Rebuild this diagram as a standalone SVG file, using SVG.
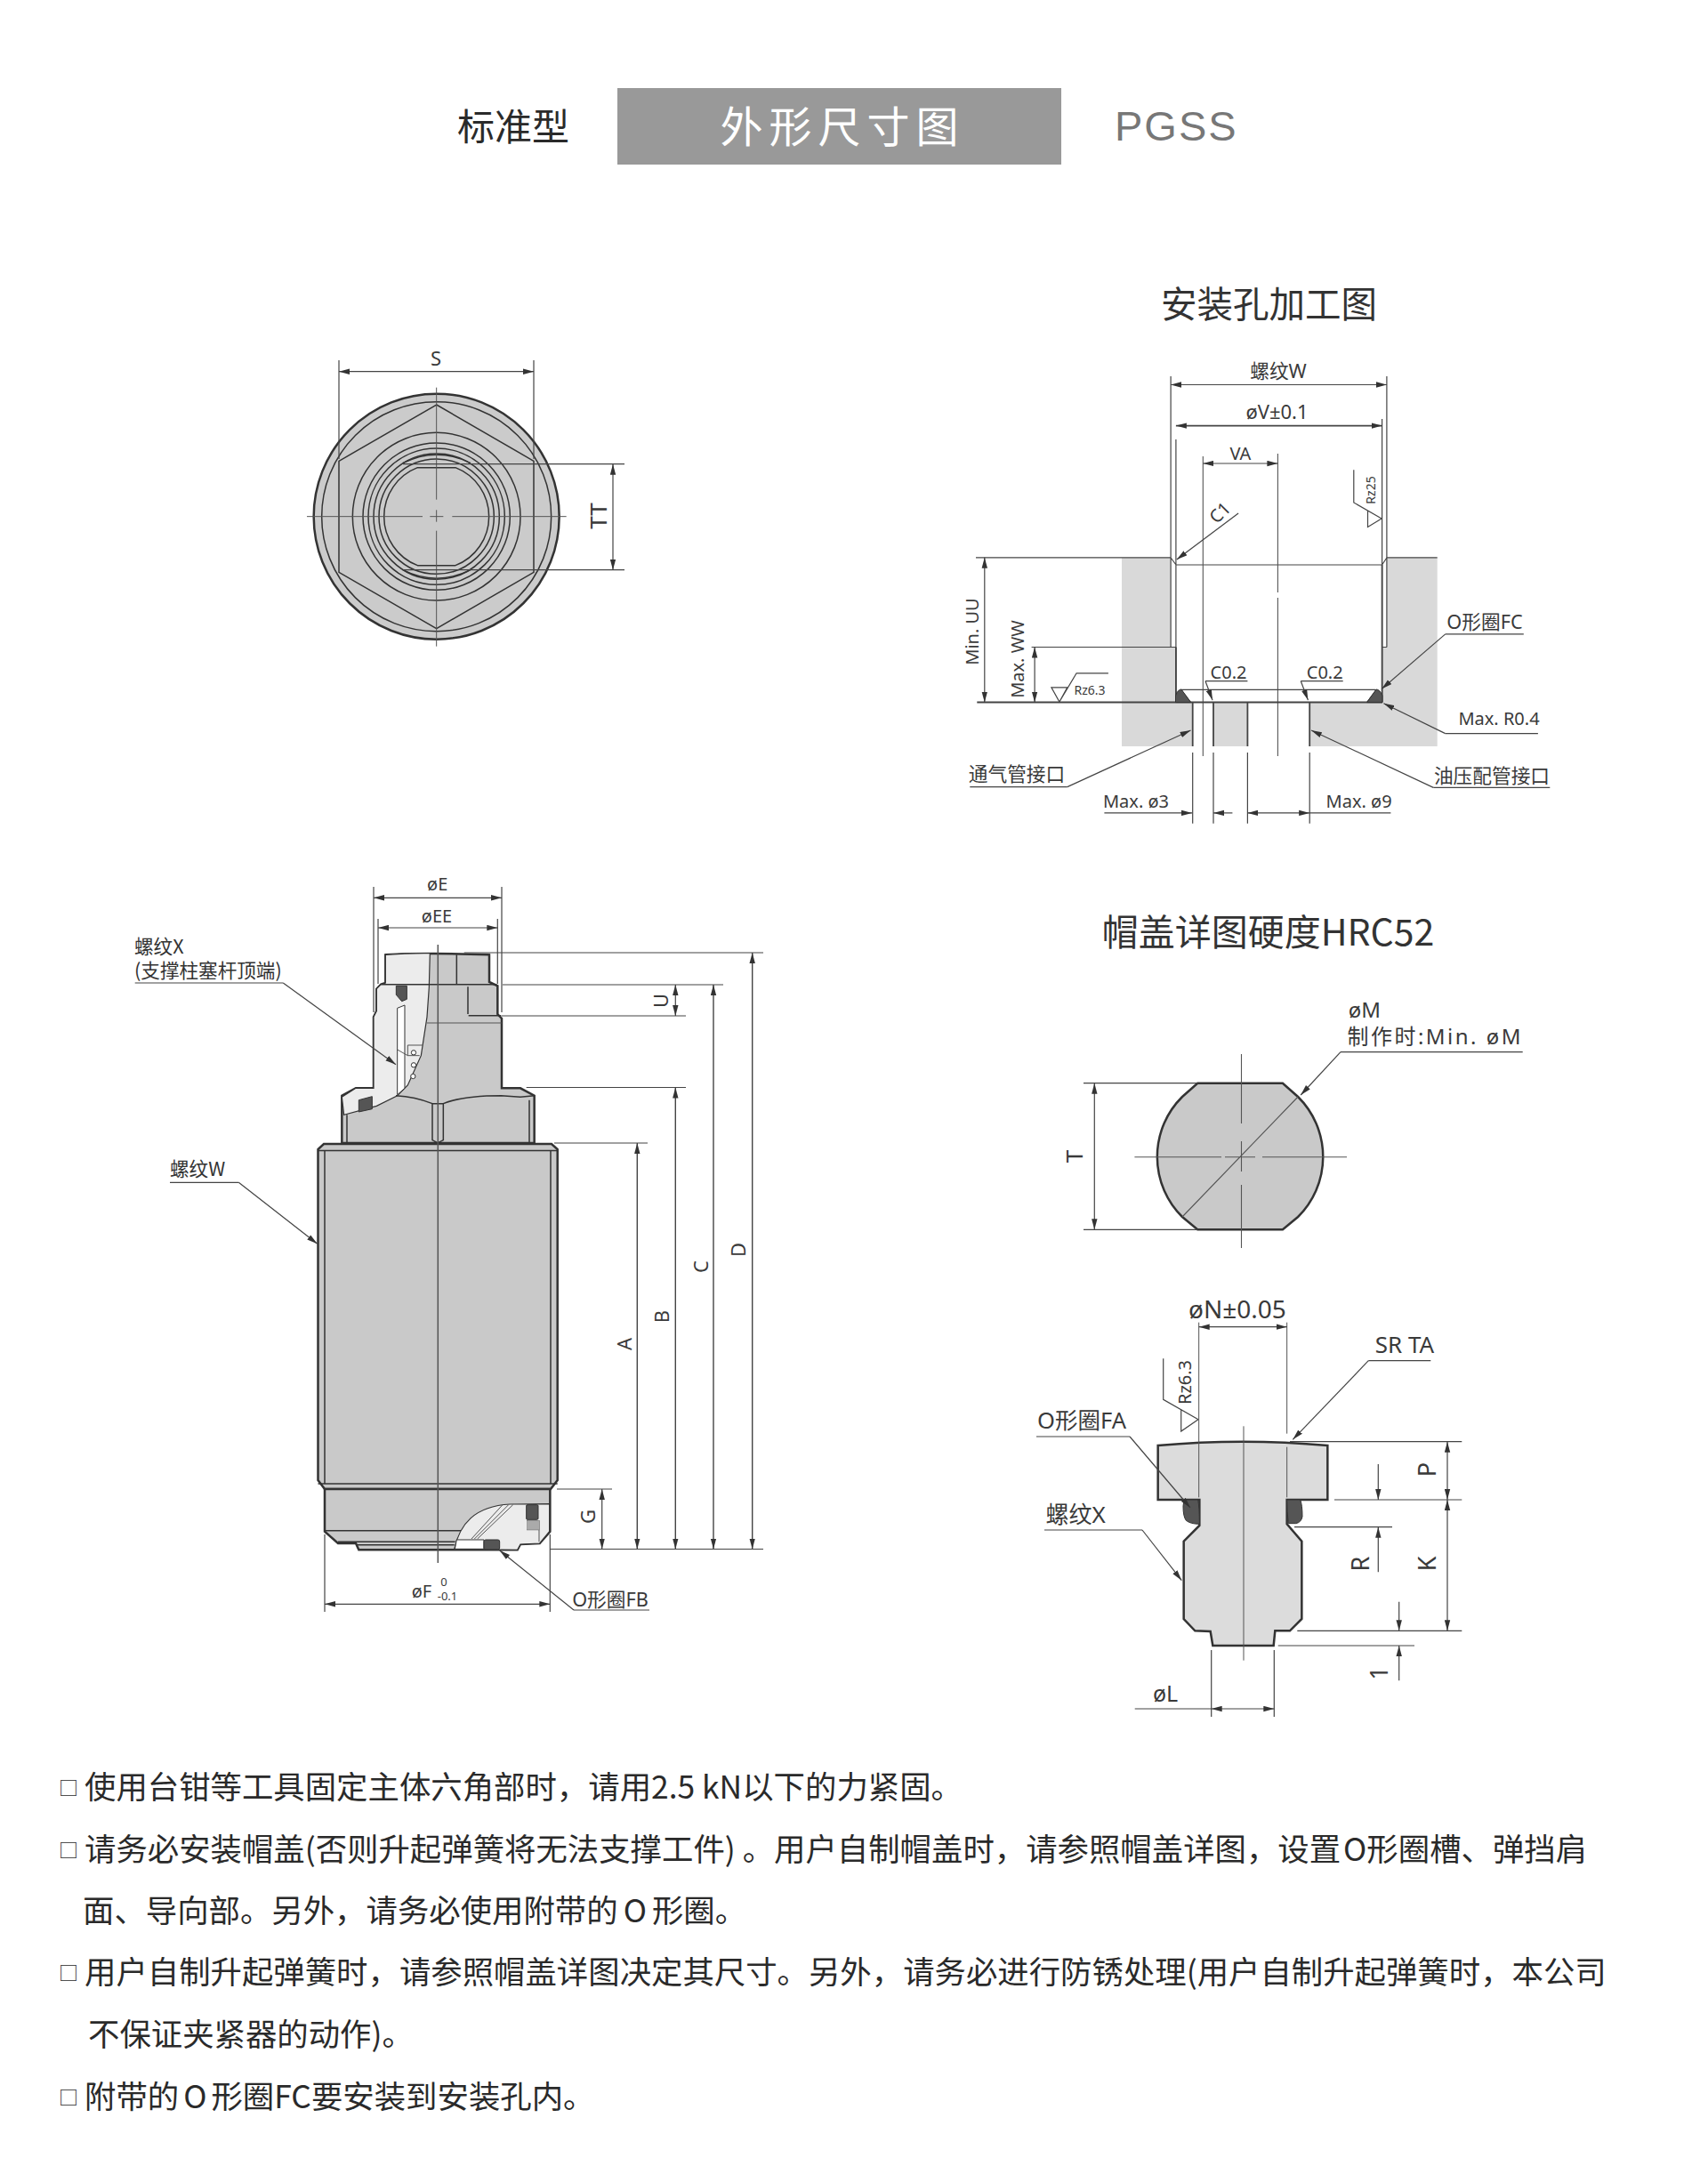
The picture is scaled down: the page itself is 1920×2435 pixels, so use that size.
<svg xmlns="http://www.w3.org/2000/svg" width="1920" height="2435" viewBox="0 0 1920 2435">
<style>
text{font-family:"Noto Sans","Noto Sans CJK SC",sans-serif;fill:#3a3a3a;text-anchor:middle;dominant-baseline:central}
.f{font-size:20px}.j{font-size:21.7px}.g{font-size:22px}.h{font-size:26px}.q{font-size:27px}.s{font-size:14px}.n{font-size:13px}
.title{font-family:"Noto Sans CJK SC",sans-serif;fill:#333}
.note{font-size:35.4px;font-family:"Noto Sans CJK SC",sans-serif;fill:#2a2a2a;text-anchor:start;dominant-baseline:auto}
.sq{font-size:22px;font-family:"Noto Sans CJK SC",sans-serif;fill:#2a2a2a;text-anchor:start;dominant-baseline:auto}
.box{font-size:21.6px;font-family:"Noto Sans CJK SC",sans-serif;fill:#333;text-anchor:start;dominant-baseline:auto}
.l{fill:none;stroke:#444;stroke-width:1.2}
.d{fill:none;stroke:#444;stroke-width:1.2;marker-start:url(#a);marker-end:url(#a)}
.e{fill:none;stroke:#444;stroke-width:1.2;marker-end:url(#a)}
.c{fill:none;stroke:#555;stroke-width:1.1}
.o{fill:#c9c9c9;stroke:#333;stroke-width:2.5;vector-effect:non-scaling-stroke}
.i{fill:none;stroke:#333;stroke-width:1.5;vector-effect:non-scaling-stroke}
.t{fill:none;stroke:#555;stroke-width:1;vector-effect:non-scaling-stroke}
.p{fill:#ececec;stroke:#333;stroke-width:1.2;vector-effect:non-scaling-stroke}
.w{fill:#fff;stroke:#333;stroke-width:1;vector-effect:non-scaling-stroke}
.r{fill:#555;stroke:#333;stroke-width:1;vector-effect:non-scaling-stroke}
</style>
<defs>
<marker id="a" markerUnits="userSpaceOnUse" markerWidth="13" markerHeight="7" refX="12" refY="3.5" orient="auto-start-reverse"><path d="M0 0.3L12 3.5L0 6.7Z" fill="#333"/></marker>
</defs>
<rect width="1920" height="2435" fill="#fff"/>

<g id="header">
<text x="577" y="139" style="font-size:42px;font-family:'Noto Sans CJK SC',sans-serif;fill:#2a2a2a">标准型</text>
<rect x="694" y="99" width="499" height="86" fill="#999"/>
<text x="947" y="139" style="font-size:48px;letter-spacing:7px;font-family:'Noto Sans CJK SC',sans-serif;fill:#fff">外形尺寸图</text>
<text x="1253" y="158" style="font-size:47px;letter-spacing:2px;font-family:'Liberation Sans',sans-serif;fill:#777;text-anchor:start;dominant-baseline:auto">PGSS</text>
<text class="title" x="1426.5" y="339.5" style="font-size:40.5px">安装孔加工图</text>
<text class="title" x="1425.5" y="1045" style="font-size:41px">帽盖详图硬度HRC52</text>
</g>

<g id="top-view">
<g transform="translate(320,370) scale(.33333)">
<circle class="o" cx="512" cy="632" r="414" style="fill:#cbcbcb"/>
<circle class="i" cx="512" cy="632" r="387"/>
<path class="i" d="M512 255L840 445V820L512 1010L183 820V445Z"/>
<circle class="i" cx="512" cy="632" r="283"/>
<circle class="i" cx="512" cy="632" r="248"/>
<circle class="i" cx="512" cy="632" r="230"/>
<circle class="i" cx="512" cy="632" r="212"/>
<circle class="i" cx="512" cy="632" r="194"/>
<path class="i" d="M448 467L576 467A177 177 0 0 1 576 797L448 797A177 177 0 0 1 448 467Z"/>
<path class="i" d="M398 452Q512 395 627 452M398 812Q512 869 627 812"/>
<path class="t" d="M512 197V575M512 610V650M512 680V1070M75 632H465M490 632H535M565 632H950"/>
</g>
<path class="l" d="M381 405V516M600 405V516M453 521.7H702M453 640.7H702"/>
<path class="d" d="M381 417.7H600"/>
<path class="d" d="M689 521.7V640.7"/>
<text class="g" x="490" y="402">S</text>
<text class="h" x="672" y="580" transform="rotate(-90 672 580)">TT</text>
</g>

<g id="hole-view">
<path fill="#d9d9d9" d="M1261 627H1316.1V727.5H1321.9V790H1340.7V839H1261ZM1615.7 627H1558.9V727.5H1553.6V790H1472.2V839H1615.7ZM1364 790H1402.4V839H1364Z"/>
<path class="l" d="M1316.1 423V727.5H1321.9M1321.9 494V789.6M1553.6 471V789.6M1558.9 423V727.5M1553.6 727.5H1558.9M1316.1 627L1322 635H1553.6L1558.9 627"/>
<path class="l" style="stroke-width:1.8" d="M1321.9 727.5V789.6M1553.6 635V789.6"/>
<path class="c" d="M1436.4 510V666M1436.4 672V850M1352.3 513V850"/>
<path class="l" d="M1097 626.8H1316M1558.9 626.8H1615.7M1261 626.8H1316M1159.6 727.5H1316.1M1327.3 775.4H1546.4M1338.5 789.6L1327.3 775.4M1536.6 789.6L1547.3 775.4"/>
<path class="l" style="stroke-width:2" d="M1098.3 789.6H1554"/>
<path class="l" style="stroke-width:1.8" d="M1340.7 789.6V838.9M1364 789.6V838.9M1402.4 789.6V838.9M1472.2 789.6V838.9"/>
<path class="l" d="M1340.7 846V925.7M1364 846V925.7M1402.4 846V925.7M1472.2 846V925.7"/>
<path fill="#555" stroke="#333" d="M1321.5 789.6V782Q1324 775 1328 775L1338.7 789.6ZM1554 789.6V782Q1551 775 1547 775L1536.6 789.6Z"/>
<path class="d" d="M1316.1 432.5H1558.9"/>
<path class="d" style="stroke-width:1.8" d="M1321.9 478.6H1553.6"/>
<path class="d" d="M1352.3 521H1436.4"/>
<path class="d" d="M1106.8 626.8V789.6"/>
<path class="d" d="M1163.1 727.5V789.6"/>
<path class="e" d="M1392.1 577.1L1322.8 628.9"/>
<path class="l" d="M1181.9 772.9H1199.8L1190.9 789ZM1190.9 789L1210.1 756.8H1245.9M1521.8 528.2V565L1553.1 582.9M1537.5 573.8V592.5L1553.1 582.9"/>
<path class="e" d="M1355 765.7L1363 787.1"/>
<path class="e" d="M1462.3 765.7L1470.4 787.1"/>
<path class="l" d="M1355 765.7H1402.4M1462.3 765.7H1509.7M1712.8 712.9H1624.7M1728.9 824.6H1624.7M1090.3 884.6H1199.8M1742.3 885.4H1611.3"/>
<path class="e" d="M1624.7 712.9L1553.1 774.6"/>
<path class="e" d="M1624.7 824.6L1555.4 790.7"/>
<path class="e" d="M1199.8 884.6L1338.5 821"/>
<path class="e" d="M1611.3 885.4L1474 821"/>
<path class="e" d="M1241.4 913.9H1340"/>
<path class="e" d="M1385.4 913.9H1364"/>
<path class="d" d="M1402.4 913.9H1472.2"/>
<path class="l" d="M1472.2 913.9H1563.4"/>
<text class="j" x="1437" y="416">螺纹W</text>
<text class="g" x="1435.5" y="462">øV±0.1</text>
<text class="f" x="1394.4" y="509">VA</text>
<text class="f" x="1092.5" y="710" transform="rotate(-90 1092.5 710)">Min. UU</text>
<text class="f" x="1143" y="741" transform="rotate(-90 1143 741)">Max. WW</text>
<text class="s" x="1225" y="775">Rz6.3</text>
<text class="s" x="1540.6" y="551" transform="rotate(-90 1540.6 551)">Rz25</text>
<text class="f" x="1371" y="576" transform="rotate(-45 1371 576)">C1</text>
<text class="f" x="1381" y="755">C0.2</text>
<text class="f" x="1489.2" y="755">C0.2</text>
<text class="j" x="1669" y="698">O形圈FC</text>
<text class="f" x="1685" y="807">Max. R0.4</text>
<text class="j" x="1143" y="869">通气管接口</text>
<text class="j" x="1677" y="871">油压配管接口</text>
<text class="f" x="1277" y="900">Max. ø3</text>
<text class="f" x="1527.6" y="900">Max. ø9</text>
</g>

<g id="main-view">
<path class="o" d="M364 1286H620L626.7 1292V1664L619 1674H365L357.5 1664V1292Z"/>
<path class="i" d="M357.5 1293.5H626.7M365 1293.5V1668M619 1293.5V1668M357.5 1668H626.7"/>
<g transform="translate(320,1600) scale(.33333)">
<path class="o" d="M135 222V365L180 405H240L250 427H785L795 408L860 405L895 365V222Z"/>
<path class="i" d="M135 362H595M180 400H575M240 410H572"/>
<path class="p" d="M572 425C590 340 640 280 760 273L893 272V365L860 405L795 408L785 427Z"/>
<path class="w" d="M580 393H672V424H574Z"/>
<path class="t" d="M630 390L735 275M640 390L755 275M650 390L770 275"/>
<rect class="r" x="672" y="393" width="53" height="33" rx="6"/>
<rect class="r" x="815" y="275" width="40" height="50" rx="4"/>
<rect x="818" y="328" width="42" height="32" fill="#aaa" stroke="#333"/>
<path class="t" d="M858 360V400"/>
</g>
<g transform="translate(130,960) scale(.33333)">
<path class="o" d="M910 340Q1060 332 1260 340V432L1288 445V540L1302 555V790H1365L1412 815V975H763V815L810 790H870V550L880 530V455L895 440L910 435Z"/>
<path class="p" d="M910 340Q985 334 1060 335L1057 450L1050 550L1030 680L985 780L950 815L880 850L770 880L763 820L810 790H870V550L880 530V455L895 440L910 435Z"/>
<path class="w" d="M950 520L975 510V790L950 812Z"/>
<path class="r" d="M946 445H982V490L965 497L946 475Z"/>
<path class="r" d="M820 830L865 818V860L820 870Z"/>
<path class="i" d="M1150 340V440M895 440H1285M1188 448V540M1190 545H1300"/>
<path class="t" d="M1050 570H1302M985 645H1035M985 645V680H1025M950 660L985 680"/>
<circle class="w" cx="1005" cy="670" r="8"/><circle class="w" cx="1005" cy="712" r="8"/><circle class="w" cx="1003" cy="750" r="8"/>
<path class="i" d="M945 815Q1010 818 1068 842H1105Q1170 815 1300 815L1365 820L1412 815"/>
<path class="i" d="M1068 842V965L1086 975L1105 965V842M780 880V972M1395 830V972"/>
</g>
<path class="c" style="stroke-width:1.5" d="M492.3 1062V1757"/>
<path class="l" d="M420 997V1138M564 997V1138M425 1033V1106M559.3 1033V1106"/>
<path class="d" d="M420 1009.3H564"/>
<path class="d" d="M425 1043H559.3"/>
<path class="l" d="M521.7 1071H858M565 1107H813M564 1142H771M591.7 1222.5H771M623 1285H728M626 1674H688M618.3 1741.5H858M618.3 1725V1812M365 1725V1812"/>
<path class="d" style="stroke-width:1.4" d="M845.7 1071V1741.5"/>
<path class="d" style="stroke-width:1.4" d="M802 1107V1741.5"/>
<path class="d" style="stroke-width:1.4" d="M759.3 1222.5V1741.5"/>
<path class="d" style="stroke-width:1.4" d="M716.3 1285V1741.5"/>
<path class="d" d="M759.3 1107V1142"/>
<path class="d" d="M676.7 1674V1741.5"/>
<path class="d" d="M365 1803.3H618.3"/>
<path class="l" d="M151.7 1105H318.3M191 1329.3H268.3M645 1810H730"/>
<path class="e" d="M318.3 1105L445 1196.7"/>
<path class="e" d="M268.3 1329.3L356.7 1398.3"/>
<path class="e" d="M645 1810L561.7 1743"/>
<text class="f" x="491.7" y="993">øE</text>
<text class="f" x="491" y="1029">øEE</text>
<text class="box" x="151" y="1072">螺纹X</text>
<text class="box" x="151" y="1099">(支撑柱塞杆顶端)</text>
<text class="box" x="191" y="1322">螺纹W</text>
<text class="g" x="742" y="1125" transform="rotate(-90 742 1125)">U</text>
<text class="g" x="829" y="1405" transform="rotate(-90 829 1405)">D</text>
<text class="g" x="786.5" y="1424" transform="rotate(-90 786.5 1424)">C</text>
<text class="g" x="743" y="1480" transform="rotate(-90 743 1480)">B</text>
<text class="g" x="701" y="1511" transform="rotate(-90 701 1511)">A</text>
<text class="g" x="660" y="1705" transform="rotate(-90 660 1705)">G</text>
<text class="f" x="474" y="1788">øF</text>
<text class="n" x="499" y="1778">0</text>
<text class="n" x="503" y="1794">-0.1</text>
<text class="j" x="686" y="1797">O形圈FB</text>
</g>

<g id="cap-section-view">
<path class="o" d="M1346.2 1217.7H1441.9L1459.1 1233A95 95 0 0 1 1459.1 1368L1441.9 1382.3H1346.2L1329 1368A95 95 0 0 1 1329 1233Z"/>
<path class="c" d="M1395.5 1185V1263M1395.5 1283V1317M1395.5 1332V1403M1275.4 1300.7H1373M1377 1300.7H1411M1419 1300.7H1514M1459.1 1233L1329 1368"/>
<path class="l" d="M1218 1217.7H1346M1218 1382.3H1346M1507 1182.7H1711.7"/>
<path class="d" d="M1230.3 1217.7V1382.3"/>
<path class="e" d="M1507 1182.7L1462.2 1231"/>
<text class="h" x="1206.5" y="1300" transform="rotate(-90 1206.5 1300)">T</text>
<text x="1534" y="1134" style="font-size:24px">øM</text>
<text x="1612" y="1164" style="font-size:24px" textLength="195">制作时:Min. øM</text>
</g>

<g id="cap-side-view">
<g transform="translate(1130,1430) scale(.33333)">
<path class="o" style="fill:#dcdcdc" d="M515 585Q800 559 1087 585V768H950V850L1000 908V1170L960 1210H910L905 1260H700L692 1212L640 1210L602 1170V908L655 855V768H515Z"/>
<path class="r" d="M603 768H650Q655 790 655 850Q625 850 610 838Q600 825 600 790Z"/>
<path class="r" d="M950 768H995Q1002 785 1002 825Q998 845 980 848H955Q950 810 950 768Z"/>
<path class="t" d="M804 520V1310M653 170V760M950 170V545M950 590V760"/>
</g>
<path class="d" d="M1347.7 1491.7H1446.7"/>
<path class="l" d="M1450 1620.7H1643.3M1500 1686H1643.3M1455 1716.7H1565M1458.3 1833.3H1643.3M1436.7 1850H1590M1361.7 1855V1930M1432.3 1855V1930"/>
<path class="l" d="M1307.7 1527.3V1573.3L1347 1595.7M1327.7 1585V1609L1347 1595.7"/>
<path class="l" d="M1165 1615H1270M1174 1720H1284M1538.3 1529.7H1608.3M1275.7 1921H1361.7"/>
<path class="e" d="M1270 1615L1338 1695"/>
<path class="e" d="M1284 1720L1328.3 1776.7"/>
<path class="e" d="M1538.3 1529.7L1453.3 1618.3"/>
<path class="d" d="M1627 1620.7V1686"/>
<path class="d" d="M1627 1686V1833.3"/>
<path class="e" d="M1549.3 1646V1686"/>
<path class="e" d="M1549.3 1767.3V1716.7"/>
<path class="e" d="M1572.7 1800.7V1833.3"/>
<path class="e" d="M1572.7 1889.3V1850"/>
<path class="d" d="M1361.7 1921H1432.3"/>
<text x="1391" y="1471" style="font-size:28px">øN±0.05</text>
<text class="h" x="1579" y="1511">SR TA</text>
<text x="1216" y="1595.7" style="font-size:25.5px">O形圈FA</text>
<text class="h" x="1209" y="1701.7">螺纹X</text>
<text class="f" x="1331.7" y="1554" transform="rotate(-90 1331.7 1554)">Rz6.3</text>
<text class="q" x="1603" y="1652" transform="rotate(-90 1603 1652)">P</text>
<text class="q" x="1603" y="1758" transform="rotate(-90 1603 1758)">K</text>
<text class="q" x="1528" y="1758" transform="rotate(-90 1528 1758)">R</text>
<text class="q" x="1549" y="1881" transform="rotate(-90 1549 1881)">1</text>
<text x="1310" y="1903" style="font-size:25px">øL</text>
</g>

<g id="notes">
<text class="sq" x="66" y="2018">□</text><text class="note" x="95" y="2022">使用台钳等工具固定主体六角部时，请用2.5 kN以下的力紧固。</text>
<text class="sq" x="66" y="2088">□</text><text class="note" x="95" y="2092">请务必安装帽盖(否则升起弹簧将无法支撑工件) 。用户自制帽盖时，请参照帽盖详图，设置<tspan dx="3">O</tspan>形圈槽、弹挡肩</text>
<text class="note" x="93" y="2161">面、导向部。另外，请务必使用附带的<tspan dx="6">O</tspan><tspan dx="6">形</tspan>圈。</text>
<text class="sq" x="66" y="2226">□</text><text class="note" x="95" y="2230">用户自制升起弹簧时，请参照帽盖详图决定其尺寸。另外，请务必进行防锈处理(用户自制升起弹簧时，本公司</text>
<text class="note" x="99" y="2300">不保证夹紧器的动作)。</text>
<text class="sq" x="66" y="2366">□</text><text class="note" x="95" y="2370">附带的<tspan dx="5">O</tspan><tspan dx="5">形</tspan>圈FC要安装到安装孔内。</text>
</g>
</svg>
